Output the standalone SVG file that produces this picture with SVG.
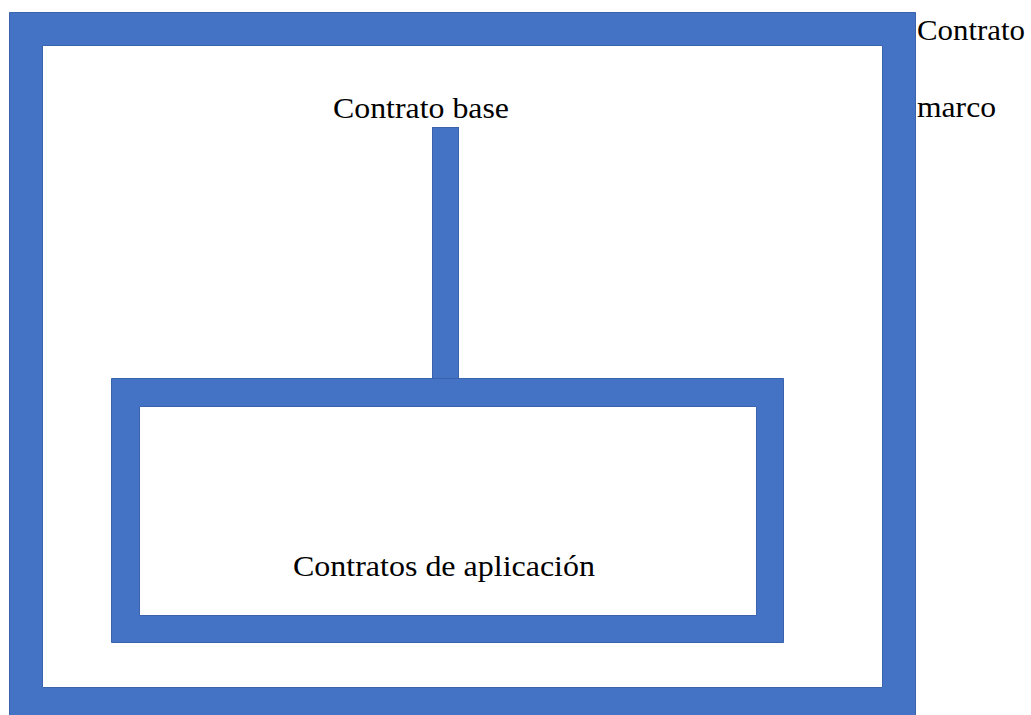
<svg xmlns="http://www.w3.org/2000/svg" width="1031" height="715" viewBox="0 0 1031 715">
<style>
.frame{fill:#4472C4;fill-rule:evenodd;stroke:#3A63AD;stroke-width:1}
.t{font-family:'Liberation Serif','DejaVu Serif','Times New Roman',serif;font-size:30px;fill:#000}
</style>
<rect width="1031" height="715" fill="#fff"/>
<g id="contrato-marco">
<path class="frame" d="M9.5,12.5 H915.5 V722 H9.5 Z M42.5,45.5 V687.5 H882.5 V45.5 Z"/>
<text class="t" x="917" y="40" textLength="108" lengthAdjust="spacingAndGlyphs">Contrato</text>
<text class="t" x="917" y="117" textLength="79" lengthAdjust="spacingAndGlyphs">marco</text>
</g>
<g id="contrato-base">
<text class="t" x="333" y="118" textLength="176" lengthAdjust="spacingAndGlyphs">Contrato base</text>
</g>
<g id="connectors">
<rect class="frame" x="432.5" y="127.5" width="26" height="251"/>
</g>
<g id="contratos-aplicacion">
<path class="frame" d="M111.5,378.5 H783.5 V642.5 H111.5 Z M139.5,406.5 V615.5 H756.5 V406.5 Z"/>
<text class="t" x="293" y="576" textLength="302" lengthAdjust="spacingAndGlyphs">Contratos de aplicación</text>
</g>
</svg>
